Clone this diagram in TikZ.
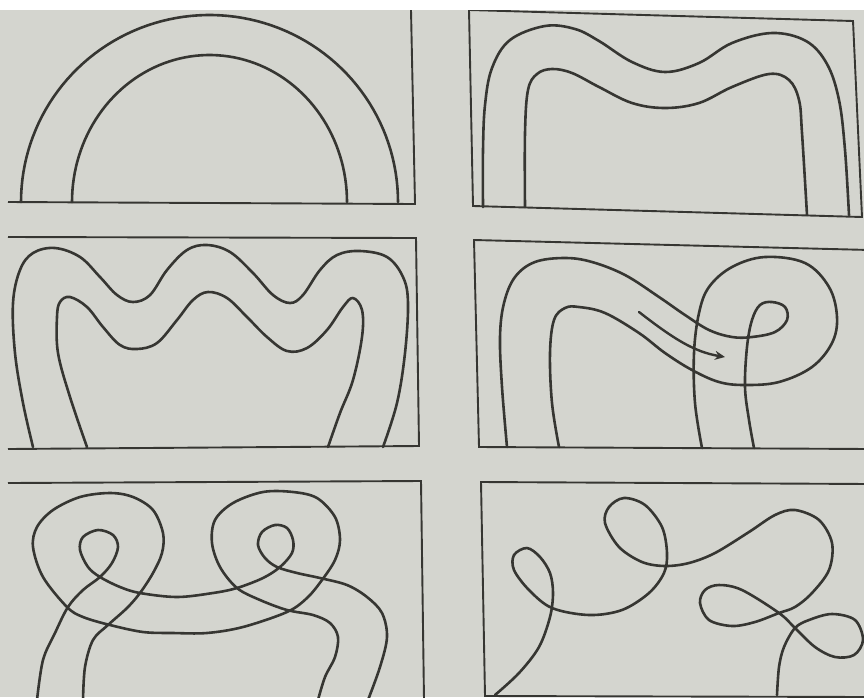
\documentclass[tikz,border=0pt]{standalone}
\usetikzlibrary{arrows.meta}
\definecolor{paper}{HTML}{D4D5CF}
\definecolor{ink}{HTML}{363632}
\tikzset{
  frame/.style={draw=ink, line width=1.9pt, line join=miter},
  curve/.style={draw=ink, line width=2.6pt, line cap=round, line join=round},
}
\begin{document}
\begin{tikzpicture}[x=1pt,y=-1pt]
\useasboundingbox (0,0) rectangle (864,697);
\fill[paper] (0,0) rectangle (864,697);
\fill[white] (0,0) rectangle (864,10);
\begin{scope}
\clip (0,10) rectangle (864,697);
% ---------- panel 1 ----------
\draw[frame] (411,10) -- (415,204) -- (8,202);
\draw[curve] plot[domain=180:360, samples=80] ({209.5+188.5*cos(\x)},{202+187*sin(\x)});
\draw[curve] plot[domain=180:360, samples=80] ({209.5+137.5*cos(\x)},{202+147*sin(\x)});
% ---------- panel 2 ----------
\draw[frame] (469,10) -- (853,21) -- (862,217) -- (473,206) -- cycle;
\draw[curve] plot[smooth, tension=0.6] coordinates {(483,207) (483,150) (485,105) (492,68) (510,40) (545,26) (575,29) (599,41) (632,62) (665,72) (699,63) (732,43) (772,33) (806,41) (827,64) (839,100) (845,150) (849,215)};
\draw[curve] plot[smooth, tension=0.6] coordinates {(525,207) (525,133) (528,90) (537,74) (552,69) (572,73) (599,87) (632,103) (665,108) (699,103) (732,87) (769,74) (789,80) (799,100) (802,133) (807,215)};
% ---------- panel 3 ----------
\draw[frame] (8,237) -- (416,238) -- (419,446) -- (8,449);
\draw[curve] plot[smooth, tension=0.6] coordinates {(33,447) (23,403) (15,353) (13,303) (20,270) (33,253) (55,248) (80,257) (100,277) (117,295) (133,302) (150,295) (167,270) (187,250) (207,245) (230,252) (253,273) (273,295) (290,303) (303,295) (320,270) (337,255) (360,251) (387,257) (403,277) (408,303) (405,353) (397,403) (383,447)};
\draw[curve] plot[smooth, tension=0.6] coordinates {(87,447) (70,397) (58,353) (57,317) (60,302) (70,297) (87,307) (103,327) (120,345) (137,349) (157,343) (177,320) (193,300) (208,292) (227,298) (247,317) (267,337) (287,351) (307,348) (327,330) (343,307) (353,298) (362,310) (362,337) (353,380) (340,413) (328,447)};
% ---------- panel 4 ----------
\draw[frame] (870,250) -- (474,240) -- (479,447) -- (870,449);
\draw[curve] plot[smooth, tension=0.6] coordinates {(507,447) (502,387) (500,337) (504,303) (515,277) (535,262) (565,258) (592,262) (625,275) (659,297) (685,315) (709,330) (732,337) (752,337) (775,332) (787,320) (785,307) (772,302) (760,305) (752,320) (747,347) (745,387) (749,420) (754,448)};
\draw[curve] plot[smooth, tension=0.6] coordinates {(559,447) (552,403) (550,353) (554,320) (565,308) (579,307) (605,313) (639,333) (665,353) (692,370) (719,382) (745,385) (779,382) (812,367) (832,343) (837,317) (829,287) (805,263) (765,257) (732,267) (709,287) (699,313) (694,353) (695,403) (702,448)};
\coordinate (a1) at (639,312);
\coordinate (a2) at (725,357);
\draw[curve, line width=2.4pt, -{Stealth[length=10pt, width=9pt]}] (a1) .. controls (675,340) and (695,352) .. (a2);
% ---------- panel 5 ----------
\draw[frame] (8,483) -- (421,481) -- (424,700);
\draw[curve] plot[smooth, tension=0.55] coordinates {(37,700) (43,660) (55,633) (68,607) (83,590) (100,577) (112,563) (118,547) (113,535) (98,530) (83,537) (80,550) (88,567) (100,577) (120,587) (140,593) (177,597) (213,593) (237,588) (263,578) (280,567) (292,553) (293,540) (287,528) (275,525) (262,532) (258,545) (265,558) (277,567) (297,573) (320,578) (347,585) (367,597) (382,613) (387,637) (380,667) (368,700)};
\draw[curve] plot[smooth, tension=0.55] coordinates {(83,700) (85,667) (93,640) (108,625) (127,608) (140,593) (153,573) (162,553) (163,533) (153,510) (133,497) (110,493) (80,497) (53,510) (37,527) (33,547) (43,577) (67,607) (83,617) (110,625) (143,632) (173,633) (207,633) (243,627) (287,612) (307,598) (322,580) (335,560) (340,540) (335,517) (317,498) (293,492) (263,492) (233,503) (215,520) (212,543) (220,567) (237,588) (260,600) (287,610) (313,615) (330,623) (338,637) (335,657) (325,677) (318,700)};
% ---------- panel 6 ----------
\draw[frame] (870,484) -- (481,482) -- (485,696) -- (870,697);
\draw[curve] plot[smooth, tension=0.55] coordinates {(495,695) (519,673) (539,647) (550,617) (553,593) (550,573) (540,557) (527,548) (514,555) (514,570) (529,590) (552,608) (589,615) (622,610) (649,593) (664,573) (667,553) (662,527) (645,505) (624,498) (609,507) (605,523) (619,547) (642,562) (665,566) (689,563) (715,553) (749,532) (775,515) (795,510) (819,520) (832,543) (829,570) (812,593) (795,607) (779,613) (755,622) (732,626) (709,620) (700,603) (705,590) (719,585) (742,590) (779,613) (795,628) (815,647) (835,657) (854,655) (863,640) (855,620) (832,614) (809,620) (795,628) (784,647) (779,667) (777,695)};
\end{scope}
\end{tikzpicture}
\end{document}
